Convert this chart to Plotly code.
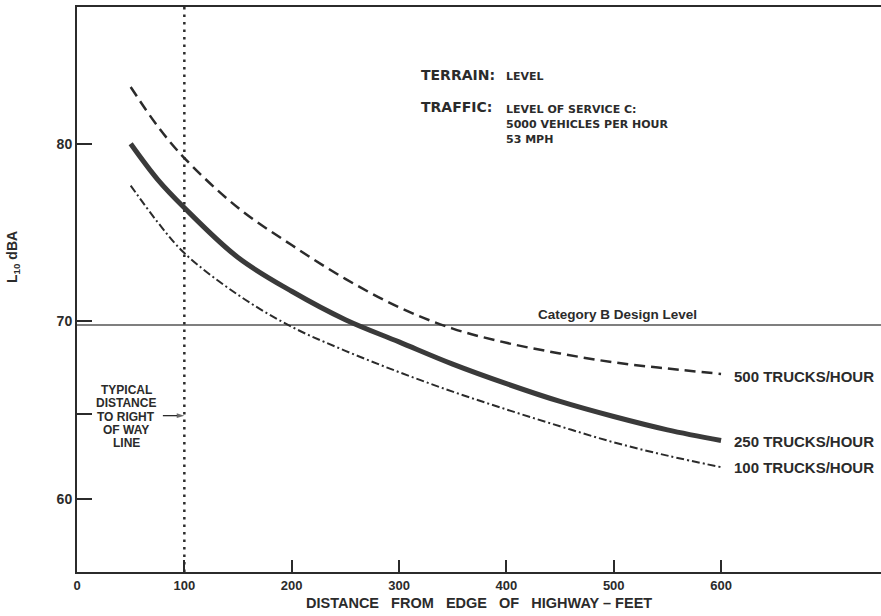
import plotly.graph_objects as go

# ---- data ----
distance_ft = [50, 75, 100, 150, 200, 250, 300, 350, 400, 450, 500, 550, 600]
l10_500_trucks = [83.2, 81.0, 79.2, 76.4, 74.3, 72.4, 70.8, 69.6, 68.8, 68.2, 67.7, 67.35, 67.05]
l10_250_trucks = [80.0, 78.0, 76.4, 73.6, 71.7, 70.1, 68.85, 67.6, 66.5, 65.5, 64.65, 63.9, 63.3]
l10_100_trucks = [77.65, 75.6, 73.85, 71.5, 69.7, 68.35, 67.15, 66.05, 65.05, 64.1, 63.2, 62.45, 61.8]
series_labels = ["500 TRUCKS/HOUR", "250 TRUCKS/HOUR", "100 TRUCKS/HOUR"]
label_y = [66.9, 63.25, 61.8]

design_level = 69.8
design_label = "Category B Design Level"
row_distance = 100
row_arrow_x = [80, 100]
row_arrow_y = 64.7
row_text = ["TYPICAL", "DISTANCE", "TO RIGHT", "OF WAY", "LINE"]
row_text_y = [66.16, 65.43, 64.64, 63.91, 63.18]

x_range = [0, 749]
y_range = [55.9, 87.7]
x_ticks = [0, 100, 200, 300, 400, 500, 600]
y_ticks = [60, 70, 80]
y_minor_ticks = [64.8]

INK = "#2b2b2b"
FONT = "Liberation Sans, Arial, Helvetica, sans-serif"
WIDE = "DejaVu Sans, Verdana, sans-serif"

fig = go.Figure()

# design level line
fig.add_trace(go.Scatter(x=x_range, y=[design_level, design_level], mode="lines",
                         line=dict(color="#555555", width=1.5), hoverinfo="skip"))
# typical right of way line
fig.add_trace(go.Scatter(x=[row_distance, row_distance], y=y_range, mode="lines",
                         line=dict(color=INK, width=2.5, dash="2.5px,5px"), hoverinfo="skip"))
# arrow to right-of-way line
fig.add_trace(go.Scatter(x=row_arrow_x, y=[row_arrow_y, row_arrow_y], mode="lines+markers",
                         line=dict(color=INK, width=1.3),
                         marker=dict(symbol="arrow", size=[0, 8], angleref="previous",
                                     color=INK, line=dict(width=0)),
                         hoverinfo="skip"))

fig.add_trace(go.Scatter(x=distance_ft, y=l10_500_trucks, mode="lines", line_shape="spline",
                         line=dict(color=INK, width=2.5, dash="11px,6px")))
fig.add_trace(go.Scatter(x=distance_ft, y=l10_250_trucks, mode="lines", line_shape="spline",
                         line=dict(color="#3a3a3a", width=5)))
fig.add_trace(go.Scatter(x=distance_ft, y=l10_100_trucks, mode="lines", line_shape="spline",
                         line=dict(color=INK, width=2, dash="8px,3px,2px,3px")))

ann = []
for lab, yy in zip(series_labels, label_y):
    ann.append(dict(x=610, y=yy, xref="x", yref="y", text=lab, showarrow=False,
                    xanchor="left", yanchor="middle",
                    font=dict(family=FONT, size=15, color=INK, weight="bold")))

ann.append(dict(x=579, y=70.38, xref="x", yref="y", text=design_label, showarrow=False,
                xanchor="right", yanchor="middle",
                font=dict(family=FONT, size=13.5, color=INK, weight="bold")))

ann.append(dict(x=318.7, y=83.85, xref="x", yref="y", text="TERRAIN:", showarrow=False,
                xanchor="left", yanchor="middle",
                font=dict(family=WIDE, size=14, color=INK, weight="bold")))
ann.append(dict(x=398, y=83.8, xref="x", yref="y", text="LEVEL", showarrow=False,
                xanchor="left", yanchor="middle",
                font=dict(family=WIDE, size=11, color=INK, weight="bold")))
ann.append(dict(x=318.7, y=82.1, xref="x", yref="y", text="TRAFFIC:", showarrow=False,
                xanchor="left", yanchor="middle",
                font=dict(family=WIDE, size=14, color=INK, weight="bold")))
for txt, yy in [("LEVEL OF SERVICE C:", 81.93), ("5000 VEHICLES PER HOUR", 81.09), ("53 MPH", 80.24)]:
    ann.append(dict(x=398, y=yy, xref="x", yref="y", text=txt, showarrow=False,
                    xanchor="left", yanchor="middle",
                    font=dict(family=WIDE, size=11, color=INK, weight="bold")))

for txt, yy in zip(row_text, row_text_y):
    ann.append(dict(x=46.1, y=yy, xref="x", yref="y", text=txt, showarrow=False,
                    xanchor="center", yanchor="middle",
                    font=dict(family=FONT, size=12, color=INK, weight="bold")))

ann.append(dict(x=-0.0796, y=0.5575, xref="paper", yref="paper", text="L<sub>10</sub> dBA",
                textangle=-90, showarrow=False, xanchor="center", yanchor="middle",
                font=dict(family=FONT, size=14, color=INK, weight="bold")))
ann.append(dict(x=0.5, y=-0.054, xref="paper", yref="paper",
                text="DISTANCE   FROM   EDGE   OF   HIGHWAY – FEET",
                showarrow=False, xanchor="center", yanchor="middle",
                font=dict(family=FONT, size=14.5, color=INK, weight="bold")))

fig.update_layout(
    width=881, height=616,
    margin=dict(l=77, r=0, t=7, b=44),
    paper_bgcolor="white", plot_bgcolor="white",
    showlegend=False,
    annotations=ann,
    xaxis=dict(range=x_range, tickvals=x_ticks, ticks="inside", ticklen=12, tickwidth=2,
               tickcolor=INK, showline=True, linecolor=INK, linewidth=2, mirror=True,
               showgrid=False, zeroline=False,
               tickfont=dict(family=FONT, size=13, color=INK, weight="bold")),
    yaxis=dict(range=y_range, tickvals=y_ticks, ticks="inside",
               ticklen=15, tickwidth=2, tickcolor=INK, showline=True, linecolor=INK,
               linewidth=2, showgrid=False, zeroline=False,
               minor=dict(tickvals=y_minor_ticks, ticks="inside", ticklen=15, tickwidth=2,
                          tickcolor=INK, showgrid=False),
               tickfont=dict(family=FONT, size=14, color=INK, weight="bold")),
)

fig.write_html("out.html", config={"displayModeBar": False},
               post_script="document.body.style.margin='0';")
